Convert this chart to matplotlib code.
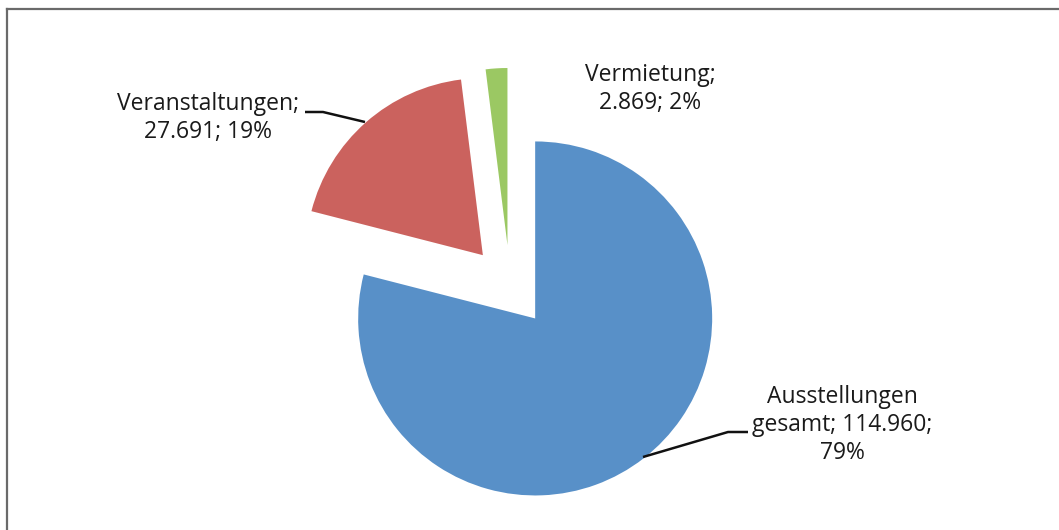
import matplotlib.pyplot as plt
from matplotlib.lines import Line2D

labels = ["Ausstellungen\ngesamt; 114.960;\n79%", "Veranstaltungen;\n27.691; 19%", "Vermietung;\n2.869; 2%"]
values = [114960, 27691, 2869]
colors = ["#5890C8", "#CB625E", "#9BC863"]

plt.rcParams['font.family'] = ['Open Sans', 'DejaVu Sans']

W, H = 1059, 530
R = 177.0          # pie radius in pixels
cx, cy = 510, 286  # pie centre in pixels


def px(x, y):
    # pixel position -> data units (radius = 1)
    return (x - cx) / R, (cy - y) / R


fig = plt.figure(figsize=(W / 100, H / 100), dpi=100)
ax = fig.add_axes([0, 0, 1, 1])

ax.pie(values, colors=colors, startangle=90, counterclock=False,
       explode=[0.232] * 3, radius=1, center=(0, 0), frame=True,
       wedgeprops=dict(linewidth=0))
ax.set_xlim(px(0, 0)[0], px(W, 0)[0])
ax.set_ylim(px(0, H)[1], px(0, 0)[1])
ax.set_aspect('auto')
ax.axis('off')

# data labels
pos = [(842, 425), (208, 118), (650, 89)]
for lab, (x, y) in zip(labels, pos):
    ax.text(*px(x, y), lab, ha='center', va='center', fontsize=16.5,
            color='#1a1a1a', linespacing=1.22)

# leader lines
for pts in ([(305, 112), (323, 112), (365, 122)],
            [(748, 432), (728, 432), (643, 457)]):
    xs, ys = zip(*[px(*p) for p in pts])
    ax.plot(xs, ys, color='#111111', lw=1.8, solid_capstyle='butt')

# outer frame (left and top edge visible)
fig.add_artist(Line2D([6.5 / W, 6.5 / W], [0, 1 - 9 / H], transform=fig.transFigure,
                      color='#6a6a6a', lw=1.6))
fig.add_artist(Line2D([6.5 / W, 1], [1 - 9 / H, 1 - 9 / H], transform=fig.transFigure,
                      color='#6a6a6a', lw=1.6))

fig.savefig('out.png', dpi=100)
